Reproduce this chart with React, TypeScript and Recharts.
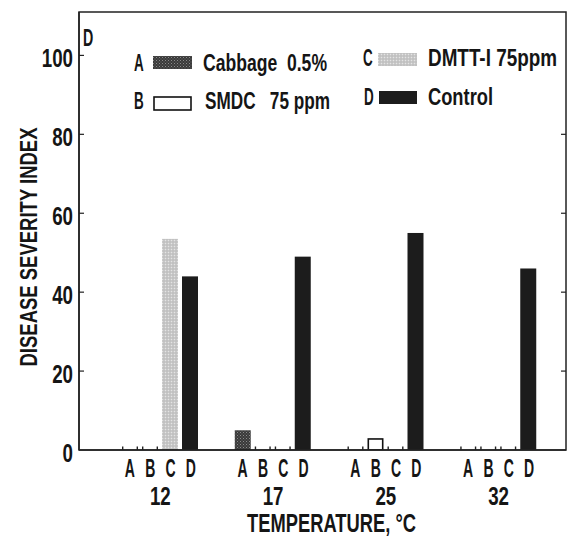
import React from 'react';
import { BarChart, Bar, XAxis, YAxis, Legend, Label } from 'recharts';

// ---- data ----
const categories = ['12', '17', '25', '32'];
const seriesA = [0, 5, 0, 0];
const seriesB = [0, 0, 3, 0];
const seriesC = [53.5, 0, 0, 0];
const seriesD = [44, 49, 55, 46];
const seriesKeys = ['A', 'B', 'C', 'D'];
const seriesNames = ['Cabbage  0.5%', 'SMDC   75 ppm', 'DMTT-I 75ppm', 'Control'];
const yTicks = [0, 20, 40, 60, 80, 100];
const rightTicks = [20, 40, 60, 80];
const yTitle = 'DISEASE SEVERITY INDEX';
const xTitle = 'TEMPERATURE, °C';
const panelLabel = 'D';
const yMax = 111;

const data = categories.map((c, i) => ({
  temp: c,
  A: seriesA[i],
  B: seriesB[i],
  C: seriesC[i],
  D: seriesD[i],
}));

// layout constants
const CHART_W = 573;
const CHART_H = 539;
const MARGIN = { top: 12, right: 7, left: 0, bottom: 0 };
const X_AXIS_H = 89;
const Y_AXIS_W = 79;
const PLOT_H = CHART_H - MARGIN.top - MARGIN.bottom - X_AXIS_H;
const LEFT_X = MARGIN.left + Y_AXIS_W;
const RIGHT_X = CHART_W - MARGIN.right;

const FONT = '"Liberation Sans", Arial, Helvetica, sans-serif';
const INK = '#151515';
const AXIS = '#222';

const fills: Record<string, string> = {
  A: 'url(#patA)',
  B: '#ffffff',
  C: 'url(#patC)',
  D: '#1c1c1c',
};

function CText(props: any) {
  const { x, y, size, sx = 1, anchor = 'start', rotate, children, length } = props;
  const tr = `translate(${x},${y})${rotate ? ` rotate(${rotate})` : ''}${sx !== 1 ? ` scale(${sx},1)` : ''}`;
  const extra: any = {};
  if (length) {
    extra.textLength = length / sx;
    extra.lengthAdjust = 'spacingAndGlyphs';
  }
  return (
    <text
      transform={tr}
      fontSize={size}
      fontWeight={700}
      fontFamily={FONT}
      textAnchor={anchor}
      fill={INK}
      style={{ whiteSpace: 'pre' }}
      {...extra}
    >
      {children}
    </text>
  );
}

const makeShape = (key: string) => (props: any) => {
  const { x, y, width, height } = props;
  if (!height || Math.abs(height) < 0.5) {
    const base = y + (height || 0);
    return (
      <g>
        <rect x={x} y={base - 3.5} width={1.4} height={3.5} fill={AXIS} />
        <rect x={x + width - 1.4} y={base - 3.5} width={1.4} height={3.5} fill={AXIS} />
      </g>
    );
  }
  if (key === 'B') {
    return (
      <rect x={x + 0.8} y={y + 0.8} width={width - 1.6} height={height - 0.8} fill="#fff" stroke="#111" strokeWidth={1.6} />
    );
  }
  return <rect x={x} y={y} width={width} height={height} fill={fills[key]} />;
};

const XTick = (props: any) => {
  const { x, y, payload } = props;
  return (
    <g>
      {seriesKeys.map((k, i) => (
        <CText key={k} x={x + (i - 1.5) * 20.3} y={y + 27} size={25} sx={0.56} anchor="middle">
          {k}
        </CText>
      ))}
      <CText x={x} y={y + 55} size={26} sx={0.72} anchor="middle">
        {payload.value}
      </CText>
    </g>
  );
};

const YTickLeft = (props: any) => {
  const { x, y, payload } = props;
  const v = payload.value;
  return (
    <g>
      {v !== 0 && <rect x={x} y={y - 0.6} width={5} height={1.2} fill={AXIS} />}
      {rightTicks.includes(v) && <rect x={RIGHT_X - 5} y={y - 0.6} width={5} height={1.2} fill={AXIS} />}
      <CText x={x - 6} y={y + 12} size={26} sx={0.72} anchor="end">
        {v}
      </CText>
    </g>
  );
};

// legend layout (style only)
const legendLayout = [
  { lx: 134, sx: 153, sw: 39, sy: 56, tx: 203, base: 71, len: 124 },
  { lx: 134, sx: 154, sw: 37, sy: 97, tx: 205, base: 109, len: 125 },
  { lx: 363, sx: 378, sw: 39, sy: 53, tx: 428, base: 66, len: 129 },
  { lx: 364, sx: 379, sw: 38, sy: 91, tx: 428, base: 105, len: 65 },
];

const LegendBox = (props: any) => {
  const payload = (props.payload || []).filter((p: any) => p.type !== 'none');
  return (
    <svg
      width={CHART_W}
      height={CHART_H}
      style={{ position: 'absolute', left: 0, top: 0, overflow: 'visible', pointerEvents: 'none' }}
    >
      {/* plot frame (top and right edges) */}
      <rect
        x={LEFT_X}
        y={MARGIN.top}
        width={RIGHT_X - LEFT_X}
        height={PLOT_H}
        fill="none"
        stroke={AXIS}
        strokeWidth={1.5}
      />
      <CText x={83} y={46} size={23} sx={0.62}>
        {panelLabel}
      </CText>
      {payload.map((p: any) => {
        const key = String(p.dataKey);
        const idx = seriesKeys.indexOf(key);
        const L = legendLayout[idx];
        if (!L) return null;
        return (
          <g key={key}>
            <CText x={L.lx} y={L.base} size={24} sx={0.56}>
              {key}
            </CText>
            {key === 'B' ? (
              <rect x={L.sx} y={L.sy} width={L.sw} height={13} fill="#fff" stroke="#111" strokeWidth={1.6} />
            ) : (
              <rect x={L.sx} y={L.sy} width={L.sw} height={13} fill={fills[key]} />
            )}
            <CText x={L.tx} y={L.base} size={24} sx={0.7} length={L.len}>
              {seriesNames[idx]}
            </CText>
          </g>
        );
      })}
    </svg>
  );
};

export default function App() {
  return (
    <div style={{ position: 'absolute', left: 0, top: 0, width: CHART_W, height: CHART_H, background: '#fff' }}>
      <BarChart
        width={CHART_W}
        height={CHART_H}
        data={data}
        margin={MARGIN}
        barSize={16}
        barGap={4}
      >
        <defs>
          <pattern id="patA" width="3" height="3" patternUnits="userSpaceOnUse">
            <rect width="3" height="3" fill="#3a3a3a" />
            <rect x="0" y="0" width="1" height="1" fill="#8a8a8a" />
            <rect x="1.5" y="1.5" width="1" height="1" fill="#6e6e6e" />
          </pattern>
          <pattern id="patC" width="3" height="3" patternUnits="userSpaceOnUse">
            <rect width="3" height="3" fill="#c9c9c9" />
            <rect x="0" y="0" width="1" height="1" fill="#e4e4e4" />
            <rect x="1.5" y="1.5" width="1" height="1" fill="#ababab" />
          </pattern>
        </defs>
        <XAxis
          dataKey="temp"
          xAxisId="main"
          height={X_AXIS_H}
          padding={{ left: 25, right: 11 }}
          axisLine={{ stroke: AXIS, strokeWidth: 1.5 }}
          tickLine={false}
          tickSize={0}
          tickMargin={0}
          tick={<XTick />}
          interval={0}
        >
          <Label
            content={(props: any) => {
              const vb = props.viewBox || { x: LEFT_X, y: MARGIN.top + PLOT_H, width: RIGHT_X - LEFT_X };
              return (
                <CText x={vb.x + vb.width / 2 + 9} y={vb.y + 82} size={25} sx={0.7} anchor="middle" length={169}>
                  {xTitle}
                </CText>
              );
            }}
          />
        </XAxis>
        <YAxis
          yAxisId="left"
          width={Y_AXIS_W}
          domain={[0, yMax]}
          ticks={yTicks}
          interval={0}
          allowDataOverflow
          axisLine={{ stroke: AXIS, strokeWidth: 1.5 }}
          tickLine={false}
          tickSize={0}
          tickMargin={0}
          tick={<YTickLeft />}
        >
          <Label
            content={(props: any) => {
              const vb = props.viewBox || { x: 0, y: MARGIN.top, width: Y_AXIS_W, height: PLOT_H };
              return (
                <CText x={37} y={vb.y + vb.height / 2 + 16} rotate={-90} size={24} sx={0.75} anchor="middle" length={239}>
                  {yTitle}
                </CText>
              );
            }}
          />
        </YAxis>
        <Legend
          content={<LegendBox />}
          wrapperStyle={{ position: 'absolute', left: 0, top: 0, width: CHART_W, height: 0 }}
        />
        {seriesKeys.map((k, i) => (
          <Bar
            key={k}
            dataKey={k}
            name={seriesNames[i]}
            xAxisId="main"
            yAxisId="left"
            fill={fills[k]}
            shape={makeShape(k)}
            isAnimationActive={false}
          />
        ))}
      </BarChart>
    </div>
  );
}
